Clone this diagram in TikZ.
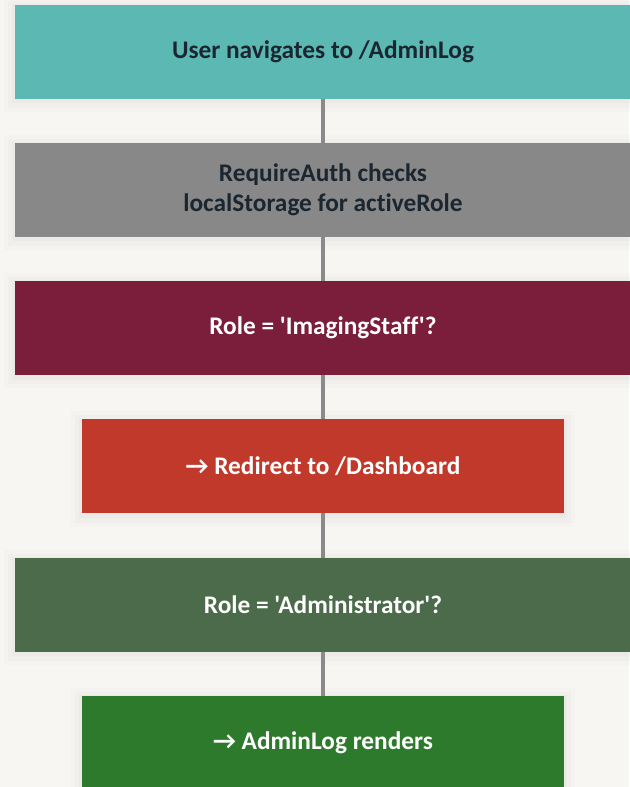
\documentclass[tikz,border=0pt]{standalone}
\usepackage{fontspec}
\newfontfamily\boxfont{Carlito}[Ligatures={NoCommon}]
\usetikzlibrary{positioning}

\definecolor{paper}{HTML}{F8F6F2}
\definecolor{tealbox}{HTML}{5BB8B3}
\definecolor{graybox}{HTML}{888888}
\definecolor{maroonbox}{HTML}{7B1E3B}
\definecolor{redbox}{HTML}{C0392B}
\definecolor{mossbox}{HTML}{4B6B4A}
\definecolor{greenbox}{HTML}{2D7A2D}
\definecolor{inkdark}{HTML}{1B2631}
\definecolor{linkgray}{HTML}{8A8A8A}

\tikzset{
  softshadow/.style={
    preaction={draw=black, draw opacity=0.012, line width=16pt, transform canvas={yshift=-2pt}},
    preaction={draw=black, draw opacity=0.015, line width=10pt, transform canvas={yshift=-2pt}},
    preaction={draw=black, draw opacity=0.02, line width=4pt, transform canvas={yshift=-1.5pt}}},
  stepbox/.style={rectangle, softshadow, minimum height=70.5pt, inner sep=0pt, outer sep=0pt,
    align=center, text=white, font=\boxfont\bfseries\fontsize{19}{23}\selectfont},
  widebox/.style={stepbox, minimum width=462pt},
  narrowbox/.style={stepbox, minimum width=361.5pt},
  link/.style={draw=linkgray, line width=3pt}
}

\begin{document}
\begin{tikzpicture}[node distance=33.2pt]

% page
\fill[paper] (0,0) rectangle (471.75pt,590.25pt);
\useasboundingbox (0,0) rectangle (471.75pt,590.25pt);

% flow steps, top to bottom
\node[widebox, fill=tealbox, text=inkdark] (visit) at (242.25pt,551.6pt)
  {User navigates to /AdminLog};
\node[widebox, fill=graybox, text=inkdark, below=of visit] (check)
  {RequireAuth checks\\localStorage for activeRole};
\node[widebox, fill=maroonbox, below=of check] (staff)
  {Role = 'ImagingStaff'?};
\node[narrowbox, fill=redbox, below=of staff] (redirect)
  {→ Redirect to /Dashboard};
\node[widebox, fill=mossbox, below=of redirect] (admin)
  {Role = 'Administrator'?};
\node[narrowbox, fill=greenbox, below=of admin] (render)
  {→ AdminLog renders};

% connectors
\draw[link] (visit) -- (check);
\draw[link] (check) -- (staff);
\draw[link] (staff) -- (redirect);
\draw[link] (redirect) -- (admin);
\draw[link] (admin) -- (render);

\end{tikzpicture}
\end{document}
